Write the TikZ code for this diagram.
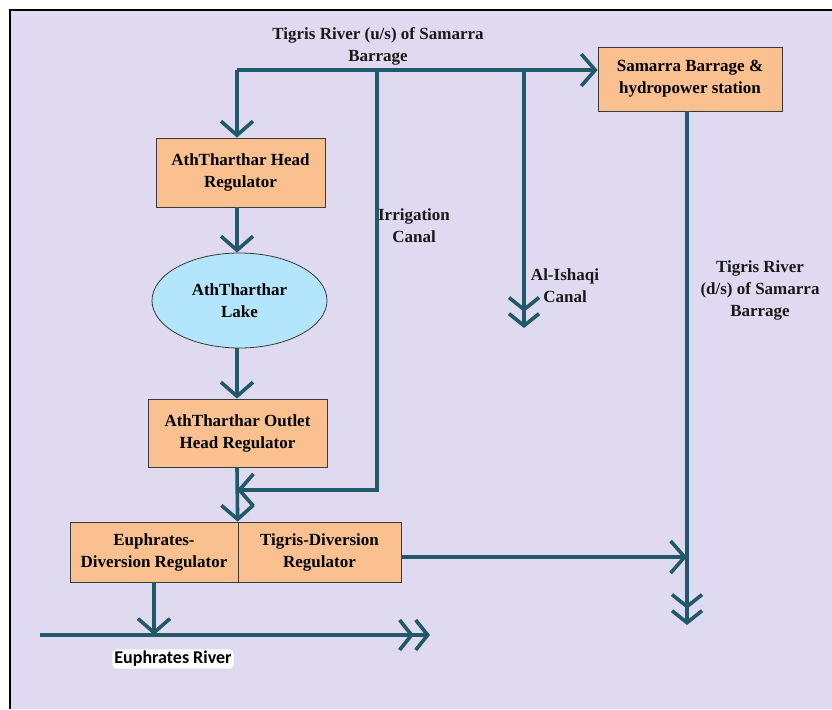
\documentclass[tikz,border=0pt]{standalone}
\usepackage{fontspec}
\setmainfont{Liberation Serif}
\newfontfamily\riversans{Carlito}
\usetikzlibrary{arrows.meta,shapes.geometric}
\definecolor{flow}{HTML}{215968}
\definecolor{panel}{HTML}{DFDAF0}
\definecolor{regfill}{HTML}{FAC090}
\definecolor{lakefill}{HTML}{B3E5FC}
\definecolor{edge}{HTML}{3A3A3A}

\begin{document}
\begin{tikzpicture}[x=1pt,y=-1pt,
  >={Straight Barb[length=14pt,width=32pt]},
  flow/.style={draw=flow, line width=3.6pt},
  twin/.style={-{Straight Barb[length=12pt,width=30pt] Straight Barb[length=12pt,width=30pt]}},
  reg/.style={draw=edge, line width=0.8pt, fill=regfill, align=center, inner sep=2pt,
              font=\fontsize{17}{22}\selectfont\bfseries},
  lake/.style={ellipse, draw=edge, line width=0.8pt, fill=lakefill, align=center, inner sep=0pt,
               font=\fontsize{17}{22}\selectfont\bfseries},
  lbl/.style={align=center, text=black!90, font=\fontsize{17}{22}\selectfont\bfseries},
  rvl/.style={fill=white, rounded corners=4pt, inner sep=2pt, font=\riversans\fontsize{18}{20}\selectfont\bfseries}]
  \useasboundingbox (0,0) rectangle (832,709);
  % frame
  \fill[white] (0,0) rectangle (832,709);
  \fill[panel] (10,10) rectangle (832,709);
  \draw[line width=2.5pt] (10,709) -- (10,10) -- (832,10);

  % regulators and lake
  \node[reg, minimum width=184pt, minimum height=64pt] (samarra) at (690,79) {Samarra Barrage \&\\hydropower station};
  \node[reg, minimum width=169pt, minimum height=69pt] (head) at (240.5,172.5) {AthTharthar Head\\Regulator};
  \node[lake, minimum width=175pt, minimum height=95pt] (lake) at (239.5,300.5) {AthTharthar\\Lake};
  \node[reg, minimum width=179pt, minimum height=68pt] (outlet) at (237.5,433) {AthTharthar Outlet\\Head Regulator};
  \node[reg, minimum width=168pt, minimum height=60pt] (eudiv) at (154,552) {Euphrates-\\Diversion Regulator};
  \node[reg, minimum width=163pt, minimum height=60pt] (tgdiv) at (319.5,552) {Tigris-Diversion\\Regulator};

  % junctions and free ends
  \coordinate (tl) at (237,70);
  \coordinate (tj) at (377,70);
  \coordinate (ij) at (524,70);
  \coordinate (irr) at (377,490);
  \coordinate (ishend) at (524,328);
  \coordinate (dsend) at (687,625);
  \coordinate (euw) at (40,635);
  \coordinate (eue) at (430,635);

  % flows
  \draw[flow, ->] (tl) -- (tl -| samarra.west);
  \draw[flow, ->] (tl) -- (tl |- head.north);
  \draw[flow, ->] (head.south -| tl) -- (lake.north -| tl);
  \draw[flow, ->] (lake.south -| tl) -- (outlet.north -| tl);
  \draw[flow, ->] (outlet.south -| tl) -- (tgdiv.north west);
  \draw[flow, ->] (tj) -- (irr) -- (irr -| tl);
  \draw[flow, twin] (ij) -- (ishend);
  \draw[flow, twin] (samarra.south -| dsend) -- (dsend);
  \draw[flow, ->] ([yshift=-5pt]tgdiv.east) -- ([yshift=-5pt]tgdiv.east -| dsend);
  \draw[flow, twin] (euw) -- (eue);
  \draw[flow, ->] (eudiv.south) -- (eudiv.south |- euw);

  % labels
  \node[lbl] (usl) at (378,46) {Tigris River (u/s) of Samarra\\Barrage};
  \node[lbl] (irl) at (414,226) {Irrigation\\Canal};
  \node[lbl] (isl) at (565,286) {Al-Ishaqi\\Canal};
  \node[lbl] (dsl) at (760,290) {Tigris River\\(d/s) of Samarra\\Barrage};
  \node[rvl] (eul) at (173,659) {Euphrates River};
\end{tikzpicture}
\end{document}
